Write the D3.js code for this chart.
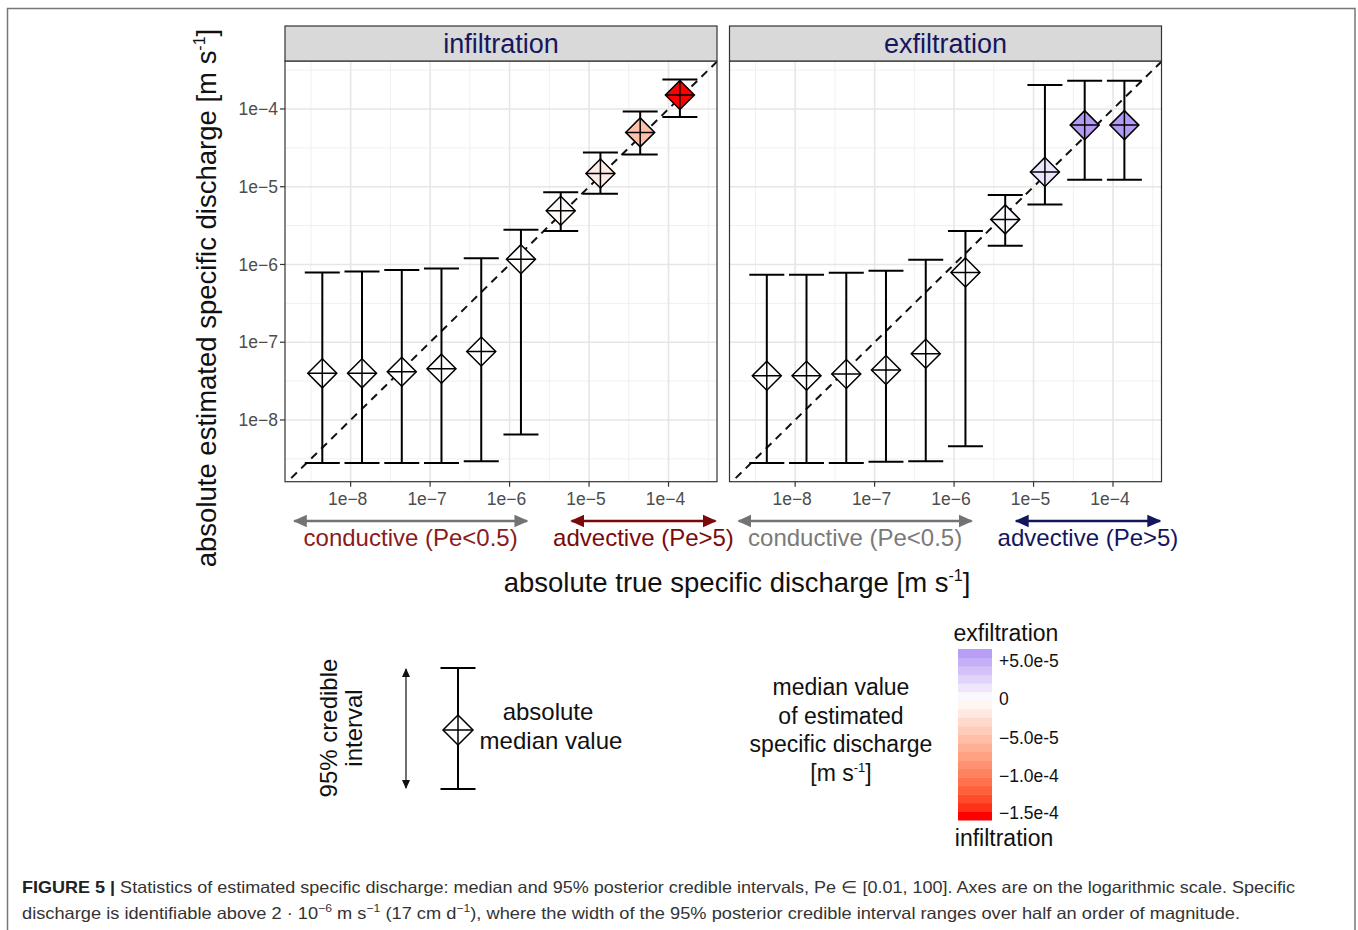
<!DOCTYPE html>
<html>
<head>
<meta charset="utf-8">
<script src="https://cdn.jsdelivr.net/npm/d3@7"></script>
<style>
  body { margin: 0; background: #fff; }
  svg { display: block; font-family: "Liberation Sans", Arial, Helvetica, sans-serif; }
</style>
</head>
<body>
<svg id="chart" width="1358" height="930"></svg>
<script>
// ---------------- DATA ----------------
const panels = ["infiltration", "exfiltration"];
const trueQ = [4.4e-9, 1.39e-8, 4.4e-8, 1.39e-7, 4.4e-7, 1.39e-6, 4.4e-6, 1.39e-5, 4.4e-5, 1.39e-4];

// infiltration (signed medians are negative)
const infMedian = [-3.98e-8, -3.98e-8, -4.17e-8, -4.57e-8, -7.59e-8, -1.17e-6, -4.9e-6, -1.48e-5, -5.0e-5, -1.51e-4];
const infLower  = [2.8e-9, 2.8e-9, 2.8e-9, 2.8e-9, 2.95e-9, 6.5e-9, 2.7e-6, 8.1e-6, 2.6e-5, 7.9e-5];
const infUpper  = [7.9e-7, 8.1e-7, 8.5e-7, 8.9e-7, 1.2e-6, 2.8e-6, 8.5e-6, 2.75e-5, 9.3e-5, 2.4e-4];

// exfiltration (signed medians are positive)
const exfMedian = [3.7e-8, 3.7e-8, 3.9e-8, 4.4e-8, 7.1e-8, 7.9e-7, 3.8e-6, 1.55e-5, 6.2e-5, 6.2e-5];
const exfLower  = [2.8e-9, 2.8e-9, 2.8e-9, 2.9e-9, 2.95e-9, 4.6e-9, 1.74e-6, 5.9e-6, 1.23e-5, 1.23e-5];
const exfUpper  = [7.4e-7, 7.4e-7, 7.8e-7, 8.3e-7, 1.15e-6, 2.7e-6, 7.8e-6, 2.04e-4, 2.3e-4, 2.3e-4];

const xTicks = [1e-8, 1e-7, 1e-6, 1e-5, 1e-4];
const xTickLabels = ["1e\u22128", "1e\u22127", "1e\u22126", "1e\u22125", "1e\u22124"];
const yTicks = [1e-8, 1e-7, 1e-6, 1e-5, 1e-4];
const yTickLabels = ["1e\u22128", "1e\u22127", "1e\u22126", "1e\u22125", "1e\u22124"];
const minorBreaks = [10**-8.5, 10**-7.5, 10**-6.5, 10**-5.5, 10**-4.5, 10**-3.5];

const regimeRanges = { conductive: [10**-8.71, 10**-5.78], advective: [10**-5.22, 10**-3.41] };
const regimeLabels = { conductive: "conductive (Pe<0.5)", advective: "advective (Pe>5)" };

const cbTicks = [5e-5, 0, -5e-5, -1e-4, -1.5e-4];
const cbTickLabels = ["+5.0e-5", "0", "\u22125.0e-5", "\u22121.0e-4", "\u22121.5e-4"];
const cbDomain = [-1.57e-4, 6.5e-5];

// ---------------- SETUP ----------------
const svg = d3.select("#chart");

// figure frame
svg.append("rect").attr("x", 7.5).attr("y", 8.5).attr("width", 1347.5).attr("height", 940)
  .attr("fill", "none").attr("stroke", "#777").attr("stroke-width", 1.5);

const panelLeft = [285, 729.5];
const panelW = 432, panelTop = 61, panelBottom = 481.7;
const stripTop = 26;

const x = d3.scaleLog().domain([10**-8.826, 10**-3.39]).range([0, panelW]);
const y = d3.scaleLog().domain([10**-8.794, 10**-3.383]).range([panelBottom, panelTop]);

const fillScale = d3.scaleLinear()
  .domain([-1.5e-4, 0, 6.2e-5])
  .range(["#ff0000", "#ffffff", "#b39bf4"])
  .interpolate(d3.interpolateLab)
  .clamp(true);

const defs = svg.append("defs");
function marker(id, color, size) {
  const m = defs.append("marker").attr("id", id)
    .attr("viewBox", "0 -5 10 10").attr("refX", 9).attr("refY", 0)
    .attr("markerWidth", size).attr("markerHeight", size)
    .attr("markerUnits", "userSpaceOnUse")
    .attr("orient", "auto-start-reverse");
  m.append("path").attr("d", "M0,-4.5L10,0L0,4.5Z").attr("fill", color);
}
marker("arrGrey", "#737373", 14);
marker("arrRed", "#7a0a0a", 14);
marker("arrNavy", "#15155e", 14);
marker("arrBlack", "#111", 9);

const datasets = [
  { name: "infiltration", med: infMedian, lo: infLower, hi: infUpper,
    condColor: "#8b1a1a", condArrow: "#737373", condMarker: "arrGrey",
    advColor: "#7a0a0a", advMarker: "arrRed" },
  { name: "exfiltration", med: exfMedian, lo: exfLower, hi: exfUpper,
    condColor: "#7a7a7a", condArrow: "#737373", condMarker: "arrGrey",
    advColor: "#15155e", advMarker: "arrNavy" }
];

datasets.forEach((ds, pi) => {
  const g = svg.append("g").attr("transform", `translate(${panelLeft[pi]},0)`);
  const clipId = "clip" + pi;
  defs.append("clipPath").attr("id", clipId).append("rect")
    .attr("x", 0).attr("y", panelTop).attr("width", panelW).attr("height", panelBottom - panelTop);

  g.append("rect").attr("x", 0).attr("y", panelTop).attr("width", panelW).attr("height", panelBottom - panelTop)
    .attr("fill", "#fff");

  // minor grid
  g.selectAll(".minx").data(minorBreaks.filter(v => x(v) > 0 && x(v) < panelW)).enter().append("line")
    .attr("x1", d => x(d)).attr("x2", d => x(d)).attr("y1", panelTop).attr("y2", panelBottom)
    .attr("stroke", "#f0f0f0").attr("stroke-width", 1);
  g.selectAll(".miny").data(minorBreaks.filter(v => y(v) > panelTop && y(v) < panelBottom)).enter().append("line")
    .attr("y1", d => y(d)).attr("y2", d => y(d)).attr("x1", 0).attr("x2", panelW)
    .attr("stroke", "#f0f0f0").attr("stroke-width", 1);
  // major grid
  g.selectAll(".majx").data(xTicks).enter().append("line")
    .attr("x1", d => x(d)).attr("x2", d => x(d)).attr("y1", panelTop).attr("y2", panelBottom)
    .attr("stroke", "#e6e6e6").attr("stroke-width", 1.6);
  g.selectAll(".majy").data(yTicks).enter().append("line")
    .attr("y1", d => y(d)).attr("y2", d => y(d)).attr("x1", 0).attr("x2", panelW)
    .attr("stroke", "#e6e6e6").attr("stroke-width", 1.6);

  // identity dashed line
  const lineG = g.append("g").attr("clip-path", `url(#${clipId})`);
  lineG.append("line")
    .attr("x1", x(1e-9)).attr("y1", y(1e-9)).attr("x2", x(1e-3)).attr("y2", y(1e-3))
    .attr("stroke", "#111").attr("stroke-width", 2).attr("stroke-dasharray", "8,6");

  // error bars
  const pts = trueQ.map((q, i) => ({ q, med: ds.med[i], lo: ds.lo[i], hi: ds.hi[i] }));
  const capHalf = 17.5;
  const eb = g.append("g").attr("clip-path", `url(#${clipId})`);
  pts.forEach(p => {
    const cx = x(p.q);
    eb.append("line").attr("x1", cx).attr("x2", cx).attr("y1", y(p.lo)).attr("y2", y(p.hi))
      .attr("stroke", "#000").attr("stroke-width", 2);
    eb.append("line").attr("x1", cx - capHalf).attr("x2", cx + capHalf).attr("y1", y(p.lo)).attr("y2", y(p.lo))
      .attr("stroke", "#000").attr("stroke-width", 2);
    eb.append("line").attr("x1", cx - capHalf).attr("x2", cx + capHalf).attr("y1", y(p.hi)).attr("y2", y(p.hi))
      .attr("stroke", "#000").attr("stroke-width", 2);
  });
  // diamonds with plus
  const r = 14.5;
  pts.forEach(p => {
    const cx = x(p.q), cy = y(Math.abs(p.med));
    eb.append("path").attr("d", `M${cx},${cy - r}L${cx + r},${cy}L${cx},${cy + r}L${cx - r},${cy}Z`)
      .attr("fill", fillScale(p.med)).attr("stroke", "#000").attr("stroke-width", 1.5);
    eb.append("path").attr("d", `M${cx - r},${cy}H${cx + r}M${cx},${cy - r}V${cy + r}`)
      .attr("stroke", "#000").attr("stroke-width", 1.5).attr("fill", "none");
  });

  // panel border
  g.append("rect").attr("x", 0).attr("y", panelTop).attr("width", panelW).attr("height", panelBottom - panelTop)
    .attr("fill", "none").attr("stroke", "#333").attr("stroke-width", 1.2);

  // strip
  g.append("rect").attr("x", 0).attr("y", stripTop).attr("width", panelW).attr("height", panelTop - stripTop)
    .attr("fill", "#d9d9d9").attr("stroke", "#333").attr("stroke-width", 1.2);
  g.append("text").attr("x", panelW / 2).attr("y", 53)
    .attr("text-anchor", "middle").attr("font-size", 27).attr("fill", "#16165e").text(ds.name);

  // x axis ticks & labels
  const xa = g.append("g");
  xTicks.forEach((t, i) => {
    xa.append("line").attr("x1", x(t)).attr("x2", x(t)).attr("y1", panelBottom).attr("y2", panelBottom + 5)
      .attr("stroke", "#333").attr("stroke-width", 1.2);
    xa.append("text").attr("x", x(t) - 3).attr("y", panelBottom + 23).attr("text-anchor", "middle")
      .attr("font-size", 17.5).attr("fill", "#4d4d4d").text(xTickLabels[i]);
  });

  // regime arrows and labels
  const ay = 521;
  const cr = regimeRanges.conductive, ar = regimeRanges.advective;
  g.append("line").attr("x1", x(cr[0])).attr("x2", x(cr[1])).attr("y1", ay).attr("y2", ay)
    .attr("stroke", ds.condArrow).attr("stroke-width", 2.5)
    .attr("marker-start", `url(#${ds.condMarker})`).attr("marker-end", `url(#${ds.condMarker})`);
  g.append("text").attr("x", (x(cr[0]) + x(cr[1])) / 2).attr("y", 546).attr("text-anchor", "middle")
    .attr("font-size", 24).attr("fill", ds.condColor).text(regimeLabels.conductive);
  g.append("line").attr("x1", x(ar[0])).attr("x2", x(ar[1])).attr("y1", ay).attr("y2", ay)
    .attr("stroke", ds.advColor).attr("stroke-width", 2.5)
    .attr("marker-start", `url(#${ds.advMarker})`).attr("marker-end", `url(#${ds.advMarker})`);
  g.append("text").attr("x", (x(ar[0]) + x(ar[1])) / 2).attr("y", 546).attr("text-anchor", "middle")
    .attr("font-size", 24).attr("fill", ds.advColor).text(regimeLabels.advective);
});

// y axis (left panel only)
const ya = svg.append("g");
yTicks.forEach((t, i) => {
  ya.append("line").attr("x1", panelLeft[0] - 5).attr("x2", panelLeft[0]).attr("y1", y(t)).attr("y2", y(t))
    .attr("stroke", "#333").attr("stroke-width", 1.2);
  ya.append("text").attr("x", panelLeft[0] - 7).attr("y", y(t)).attr("dy", "0.35em").attr("text-anchor", "end")
    .attr("font-size", 17.5).attr("fill", "#4d4d4d").text(yTickLabels[i]);
});

// axis titles
const yt = svg.append("text").attr("transform", "translate(216,298) rotate(-90)")
  .attr("text-anchor", "middle").attr("font-size", 27.5).attr("fill", "#111");
yt.append("tspan").text("absolute estimated specific discharge [m s");
yt.append("tspan").attr("font-size", 16).attr("dy", -11).text("-1");
yt.append("tspan").attr("dy", 11).text("]");

const xt = svg.append("text").attr("x", 737).attr("y", 592)
  .attr("text-anchor", "middle").attr("font-size", 27.5).attr("fill", "#111");
xt.append("tspan").text("absolute true specific discharge [m s");
xt.append("tspan").attr("font-size", 16).attr("dy", -11).text("-1");
xt.append("tspan").attr("dy", 11).text("]");

// ---------------- LEGEND: error bar key ----------------
const lg = svg.append("g");
const lt = lg.append("text").attr("transform", "translate(337,728) rotate(-90)")
  .attr("text-anchor", "middle").attr("font-size", 24).attr("fill", "#111");
lt.append("tspan").attr("x", 0).attr("dy", 0).text("95% credible");
lt.append("tspan").attr("x", 0).attr("dy", 25).text("interval");

lg.append("line").attr("x1", 406).attr("x2", 406).attr("y1", 669).attr("y2", 788)
  .attr("stroke", "#111").attr("stroke-width", 1.2)
  .attr("marker-start", "url(#arrBlack)").attr("marker-end", "url(#arrBlack)");
const kx = 458, kTop = 668, kBot = 789, kMid = 730, kr = 15;
lg.append("line").attr("x1", kx).attr("x2", kx).attr("y1", kTop).attr("y2", kBot).attr("stroke", "#000").attr("stroke-width", 2);
lg.append("line").attr("x1", kx - 17.5).attr("x2", kx + 17.5).attr("y1", kTop).attr("y2", kTop).attr("stroke", "#000").attr("stroke-width", 2);
lg.append("line").attr("x1", kx - 17.5).attr("x2", kx + 17.5).attr("y1", kBot).attr("y2", kBot).attr("stroke", "#000").attr("stroke-width", 2);
lg.append("path").attr("d", `M${kx},${kMid - kr}L${kx + kr},${kMid}L${kx},${kMid + kr}L${kx - kr},${kMid}Z`)
  .attr("fill", "#fff").attr("stroke", "#000").attr("stroke-width", 1.5);
lg.append("path").attr("d", `M${kx - kr},${kMid}H${kx + kr}M${kx},${kMid - kr}V${kMid + kr}`)
  .attr("stroke", "#000").attr("stroke-width", 1.5);
lg.append("text").attr("x", 548).attr("y", 720).attr("text-anchor", "middle").attr("font-size", 24).attr("fill", "#111").text("absolute");
lg.append("text").attr("x", 551).attr("y", 749).attr("text-anchor", "middle").attr("font-size", 24).attr("fill", "#111").text("median value");

// ---------------- LEGEND: colour bar ----------------
const cg = svg.append("g");
const cbText = ["median value", "of estimated", "specific discharge"];
cbText.forEach((t, i) => {
  cg.append("text").attr("x", 841).attr("y", 695 + i * 28.5).attr("text-anchor", "middle")
    .attr("font-size", 23).attr("fill", "#111").text(t);
});
const u = cg.append("text").attr("x", 841).attr("y", 780.5).attr("text-anchor", "middle")
  .attr("font-size", 23).attr("fill", "#111");
u.append("tspan").text("[m s");
u.append("tspan").attr("font-size", 13).attr("dy", -9).text("-1");
u.append("tspan").attr("dy", 9).text("]");

const cbY = d3.scaleLinear().domain(cbDomain).range([820, 649]);
const cbX = 958, cbW = 34;
const nBands = 20;
const bandEdges = d3.range(nBands + 1).map(i => cbDomain[0] + (cbDomain[1] - cbDomain[0]) * i / nBands);
cg.selectAll(".band").data(d3.range(nBands)).enter().append("rect")
  .attr("x", cbX).attr("width", cbW)
  .attr("y", i => cbY(bandEdges[i + 1]))
  .attr("height", i => cbY(bandEdges[i]) - cbY(bandEdges[i + 1]) + 0.5)
  .attr("fill", i => fillScale((bandEdges[i] + bandEdges[i + 1]) / 2));
cbTicks.forEach((t, i) => {
  cg.append("text").attr("x", 999).attr("y", cbY(t) - (i === cbTicks.length - 1 ? 1.5 : 0)).attr("dy", "0.35em")
    .attr("font-size", 17.5).attr("fill", "#111").text(cbTickLabels[i]);
});
cg.append("text").attr("x", 1006).attr("y", 641).attr("text-anchor", "middle").attr("font-size", 23).attr("fill", "#111").text("exfiltration");
cg.append("text").attr("x", 1004).attr("y", 846).attr("text-anchor", "middle").attr("font-size", 23).attr("fill", "#111").text("infiltration");

// ---------------- CAPTION ----------------
const c1 = svg.append("text").attr("x", 22).attr("y", 893).attr("font-size", 16.5).attr("fill", "#333")
  .attr("textLength", 1273).attr("lengthAdjust", "spacingAndGlyphs");
c1.append("tspan").attr("font-weight", "bold").attr("fill", "#222").text("FIGURE 5 | ");
c1.append("tspan").text("Statistics of estimated specific discharge: median and 95% posterior credible intervals, Pe \u2208 [0.01, 100]. Axes are on the logarithmic scale. Specific");
const c2 = svg.append("text").attr("x", 22).attr("y", 919).attr("font-size", 16.5).attr("fill", "#333")
  .attr("textLength", 1218).attr("lengthAdjust", "spacingAndGlyphs");
c2.append("tspan").text("discharge is identifiable above 2 \u00b7 10");
c2.append("tspan").attr("font-size", 11).attr("dy", -7).text("\u22126");
c2.append("tspan").attr("dy", 7).text(" m s");
c2.append("tspan").attr("font-size", 11).attr("dy", -7).text("\u22121");
c2.append("tspan").attr("dy", 7).text(" (17 cm d");
c2.append("tspan").attr("font-size", 11).attr("dy", -7).text("\u22121");
c2.append("tspan").attr("dy", 7).text("), where the width of the 95% posterior credible interval ranges over half an order of magnitude.");
</script>
</body>
</html>
